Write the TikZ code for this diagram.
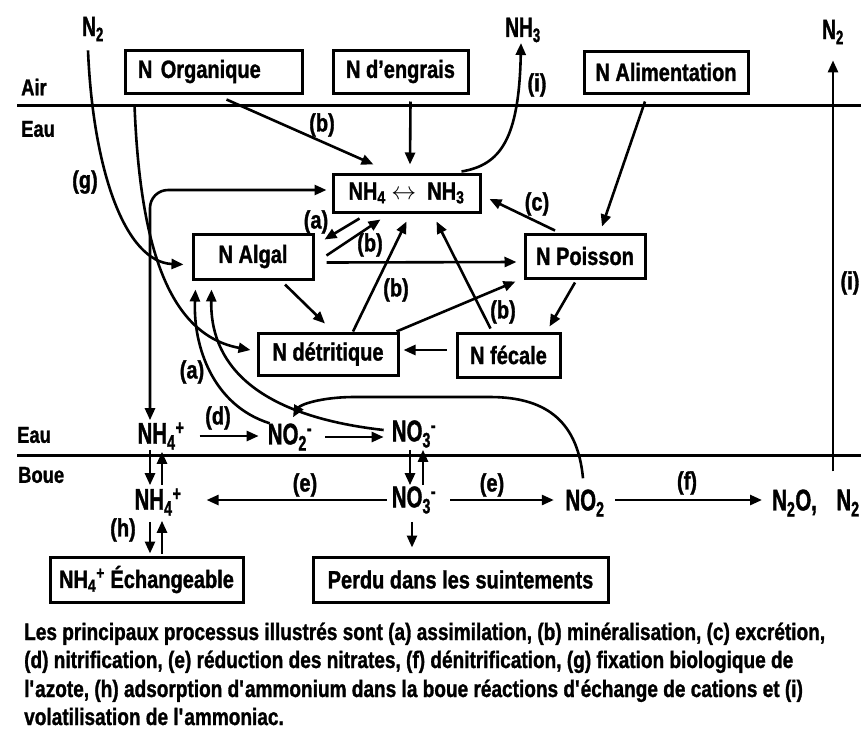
\documentclass[tikz,border=0pt]{standalone}
\usepackage{fontspec}
\setmainfont{Liberation Sans}[FakeStretch=0.8, BoldFeatures={FakeBold=1.2}]
\newfontfamily\chemfont{Liberation Sans}[FakeStretch=0.68, BoldFeatures={FakeBold=1.2}]
\usetikzlibrary{arrows.meta}
\begin{document}
\begin{tikzpicture}[x=1pt,y=-1pt,
  every node/.style={font=\bfseries\fontsize{25}{28}\selectfont},
  box/.style={draw, line width=3pt, inner sep=0pt, align=center},
  chem/.style={inner sep=0pt, minimum width=44pt, minimum height=24pt, font=\chemfont\bfseries\fontsize{30}{32}\selectfont},
  topchem/.style={chem, font=\chemfont\bfseries\fontsize{28}{30}\selectfont},
  lbl/.style={inner sep=0pt, font=\bfseries\fontsize{25}{28}\selectfont},
  layername/.style={inner sep=0pt, font=\bfseries\fontsize{23}{26}\selectfont},
  captext/.style={inner sep=0pt, font=\bfseries\fontsize{23.8}{28}\selectfont},
  arr/.style={line width=2.6pt, -{Triangle[length=12pt,width=10pt]}},
  dbl/.style={line width=2.6pt, {Triangle[length=12pt,width=10pt]}-{Triangle[length=12pt,width=10pt]}},
  layerline/.style={line width=3pt}
]
\fill[white] (0,0) rectangle (861,729);
\useasboundingbox (0,0) rectangle (861,729);

% layer separators
\draw[layerline] (17,105) -- (861,105);
\draw[layerline] (17,455) -- (861,455);

% layer names
\node[layername, anchor=west] (air) at (21,87) {Air};
\node[layername, anchor=west] (eau1) at (21,129) {Eau};
\node[layername, anchor=west] (eau2) at (17,435) {Eau};
\node[layername, anchor=west] (boue) at (18,475) {Boue};

% top species
\node[topchem] (n2a) at (93,29) {N\textsubscript{2}};
\node[topchem] (nh3t) at (523,30) {NH\textsubscript{3}};
\node[topchem] (n2t) at (833,32) {N\textsubscript{2}};

% boxes
\node[box, minimum width=177pt, minimum height=43pt, text width=151pt, align=left] (org) at (213.5,71.5) {N Organique};
\node[box, minimum width=135pt, minimum height=43pt] (eng) at (400.5,71.5) {N d’engrais};
\node[box, minimum width=164pt, minimum height=42pt] (alim) at (666,72) {N Alimentation};
\node[box, minimum width=147pt, minimum height=38pt] (nh) at (406.5,193) {NH\textsubscript{4} $\leftrightarrow$\ \ NH\textsubscript{3}};
\node[box, minimum width=120pt, minimum height=45pt] (alg) at (253,256.5) {N Algal};
\node[box, minimum width=120pt, minimum height=44pt] (poi) at (585,256) {N Poisson};
\node[box, minimum width=140pt, minimum height=42pt] (det) at (328,354) {N détritique};
\node[box, minimum width=103pt, minimum height=44pt] (fec) at (508.5,355) {N fécale};
\node[box, minimum width=193pt, minimum height=45pt] (ech) at (146.5,579.5) {NH\textsubscript{4}\textsuperscript{+} Échangeable};
\node[box, minimum width=295pt, minimum height=45pt] (per) at (460.5,579.5) {Perdu dans les suintements};

% water / mud species
\node[chem] (nh4w) at (161,436) {NH\textsubscript{4}\textsuperscript{+}};
\node[chem] (no2w) at (290,437) {NO\textsubscript{2}\textsuperscript{-}};
\node[chem] (no3w) at (414,434) {NO\textsubscript{3}\textsuperscript{-}};
\node[chem] (nh4m) at (158,502) {NH\textsubscript{4}\textsuperscript{+}};
\node[chem] (no3m) at (414,500) {NO\textsubscript{3}\textsuperscript{-}};
\node[chem] (no2m) at (585,503) {NO\textsubscript{2}};
\node[chem, anchor=west] (n2o) at (772,503) {N\textsubscript{2}O,};
\node[chem] (n2m) at (848,503) {N\textsubscript{2}};

% process labels
\node[lbl] (lb1) at (322,125) {(b)};
\node[lbl] (lg) at (85,182) {(g)};
\node[lbl] (li1) at (537,85) {(i)};
\node[lbl] (lc) at (537,204) {(c)};
\node[lbl] (la1) at (316,222) {(a)};
\node[lbl] (lb2) at (370,245) {(b)};
\node[lbl] (lb3) at (396,290) {(b)};
\node[lbl] (lb4) at (503,312) {(b)};
\node[lbl] (la2) at (192,372) {(a)};
\node[lbl] (ld) at (218,418) {(d)};
\node[lbl] (le1) at (305,485) {(e)};
\node[lbl] (le2) at (492,485) {(e)};
\node[lbl] (lf) at (687,483) {(f)};
\node[lbl] (li2) at (850,283) {(i)};
\node[lbl] (lh) at (123,530) {(h)};

% connectors
\draw[arr] ([shift={(-5,9)}]n2a.south) .. controls (93,170) and (125,262) .. ([shift={(-8,8)}]alg.west);
\draw[arr] ([shift={(11,10)}]org.south west) .. controls (140,250) and (170,335) .. ([shift={(-6,-4)}]det.west);
\draw[dbl, rounded corners=18pt] ([shift={(-11,-2)}]nh4w.north) |- ([shift={(-5,-3)}]nh.west);
\draw[arr] ([shift={(-20,-1)}]nh.north east) .. controls (500,165) and (519,140) .. ([shift={(-2,13)}]nh3t.center);
\draw[arr] ([shift={(13,5)}]org.south) -- ([shift={(-33,-8)}]nh.north);
\draw[arr] ([shift={(10,7)}]eng.south) -- ([shift={(3.5,-8)}]nh.north);
\draw[arr] ([shift={(-21,7)}]alim.south) -- ([shift={(17,-6)}]poi.north);
\draw[arr] ([shift={(-30,-2)}]poi.north) -- ([shift={(8,6)}]nh.east);
\draw[arr] ([shift={(-10,3)}]poi.south) -- ([shift={(41,-5)}]fec.north);
\draw[arr] ([shift={(-9,-5)}]fec.west) -- ([shift={(4,-4)}]det.east);
\draw[arr] ([shift={(-18,-3)}]fec.north) -- ([shift={(30,8)}]nh.south);
\draw[arr] ([shift={(25,0)}]det.north) -- ([shift={(0,8)}]nh.south);
\draw[arr] ([shift={(-3,0)}]det.north east) -- ([shift={(-8,2)}]poi.south west);
\draw[arr] ([shift={(12,6)}]alg.east) -- ([shift={(-7,6)}]poi.west);
\draw[arr] ([shift={(-47,5)}]nh.south) -- ([shift={(10,-17)}]alg.east);
\draw[arr] ([shift={(12,-1)}]alg.east) -- ([shift={(-26,6)}]nh.south);
\draw[arr] ([shift={(32,4)}]alg.south) -- ([shift={(-3,-8)}]det.north);
\draw[arr] ([shift={(2,0)}]no2w.north west) .. controls (212,405) and (193,345) .. ([shift={(4,9)}]alg.south west);
\draw[arr] ([shift={(-8,-4)}]no3w.west) .. controls (250,415) and (210,360) .. ([shift={(20,9)}]alg.south west);
\draw[arr] ([shift={(-2,-11)}]no2m.north) .. controls (578,425) and (550,397) .. (490,397) -- (355,397) .. controls (320,397) and (300,405) .. ([shift={(3,-6)}]no2w.north);
\draw[arr] ([shift={(15,0)}]nh4w.east) -- ([shift={(-9,-1)}]no2w.west);
\draw[arr] ([shift={(13,0)}]no2w.east) -- ([shift={(-8,3)}]no3w.west);
\draw[arr] ([shift={(-11,0)}]nh4w.south) -- ([shift={(-8,-3)}]nh4m.north);
\draw[arr] ([shift={(4,-3)}]nh4m.north) -- ([shift={(1,2)}]nh4w.south);
\draw[arr] ([shift={(-4,2)}]no3w.south) -- ([shift={(-4,-1)}]no3m.north);
\draw[arr] ([shift={(9,-1)}]no3m.north) -- ([shift={(9,2)}]no3w.south);
\draw[arr] ([shift={(-5,0)}]no3m.west) -- ([shift={(25,-2)}]nh4m.east);
\draw[arr] ([shift={(14,0)}]no3m.east) -- ([shift={(-9,-3)}]no2m.west);
\draw[arr] ([shift={(8,-3)}]no2m.east) -- ([shift={(-10,-3)}]n2o.west);
\draw[arr] ([shift={(-15,-18)}]n2m.north) -- ([shift={(0,16)}]n2t.south);
\draw[arr] ([shift={(-8,6)}]nh4m.south) -- ([shift={(3.5,-2)}]ech.north);
\draw[arr] ([shift={(15.5,-2)}]ech.north) -- ([shift={(4,5)}]nh4m.south);
\draw[arr] ([shift={(-2,8)}]no3m.south) -- ([shift={(-48.5,-8)}]per.north);

% caption
\node[captext, anchor=base west] (c1) at (24,640) {Les principaux processus illustrés sont (a) assimilation, (b) minéralisation, (c) excrétion,};
\node[captext, anchor=base west] (c2) at (24,668) {(d) nitrification, (e) réduction des nitrates, (f) dénitrification, (g) fixation biologique de};
\node[captext, anchor=base west] (c3) at (24,697) {l\textquotesingle azote, (h) adsorption d\textquotesingle ammonium dans la boue réactions d\textquotesingle échange de cations et (i)};
\node[captext, anchor=base west] (c4) at (24,725) {volatilisation de l\textquotesingle ammoniac.};
\end{tikzpicture}
\end{document}
